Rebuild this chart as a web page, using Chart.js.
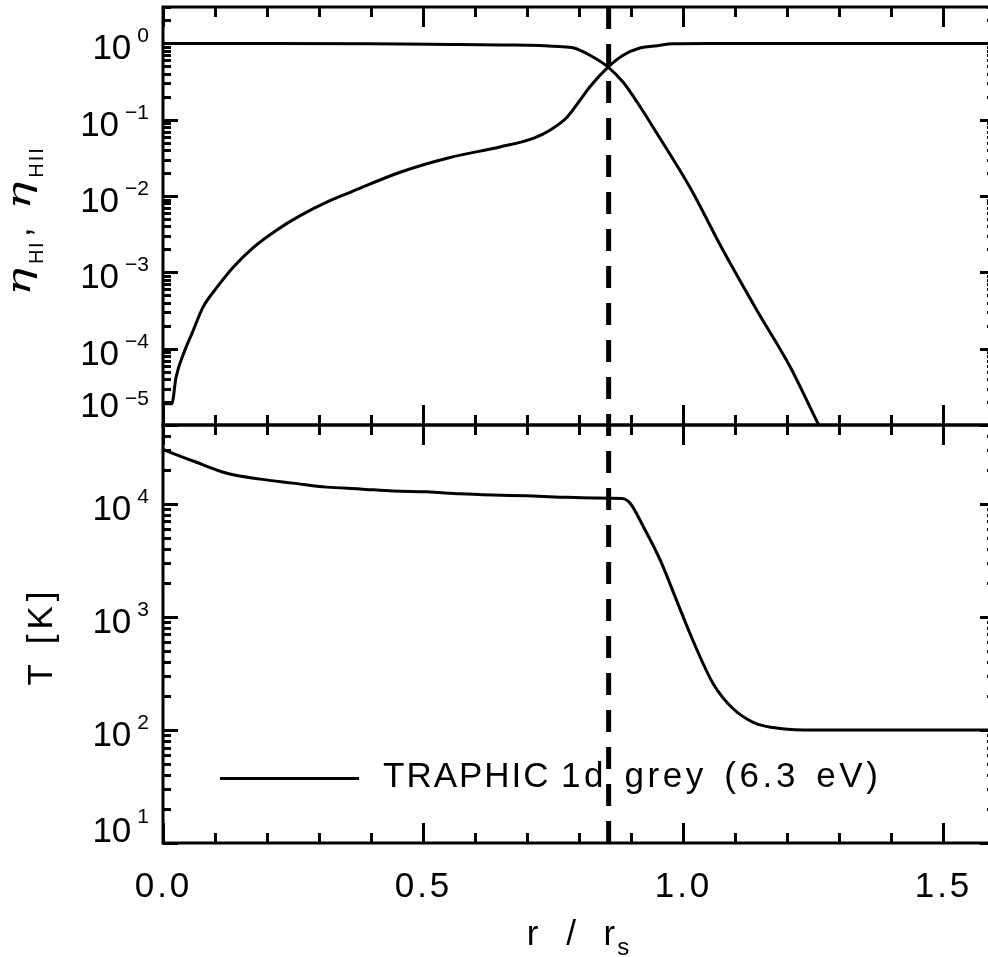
<!DOCTYPE html>
<html>
<head>
<meta charset="utf-8">
<script src="https://cdn.jsdelivr.net/npm/chart.js@4.4.1/dist/chart.umd.min.js"></script>
<style>
html,body{margin:0;padding:0;background:#fff;overflow:hidden}
#wrap{position:relative;width:988px;height:957px;overflow:hidden;background:#fff}
#wrap canvas{position:absolute;left:0;top:0}
</style>
</head>
<body>
<div id="wrap">
<canvas id="cTop" width="1010" height="957"></canvas>
<canvas id="cBot" width="1010" height="957"></canvas>
</div>
<script>
// ---------------- data ----------------
const rHI = [0, 0.017, 0.025, 0.042, 0.056, 0.077, 0.104, 0.135, 0.173, 0.219, 0.263, 0.321, 0.360, 0.456, 0.552, 0.648, 0.712, 0.744, 0.777, 0.802, 0.821, 0.856, 0.885, 0.917, 0.950, 0.981, 1.05, 1.2, 1.4, 1.6];
const etaHI = [1.9e-5, 1.9e-5, 4.2e-5, 9.5e-5, 1.6e-4, 3.5e-4, 6.4e-4, 1.17e-3, 2.1e-3, 3.6e-3, 5.5e-3, 8.7e-3, 1.12e-2, 2.05e-2, 3.2e-2, 4.4e-2, 5.7e-2, 7.3e-2, 0.108, 0.18, 0.27, 0.49, 0.70, 0.87, 0.935, 0.99, 1.0, 1.0, 1.0, 1.0];

const rHII = [0, 0.2, 0.4, 0.55, 0.65, 0.725, 0.76, 0.79, 0.821, 0.856, 0.885, 0.917, 0.95, 1.013, 1.077, 1.142, 1.206, 1.258, 1.30];
const etaHII = [1.0, 1.0, 0.99, 0.97, 0.955, 0.94, 0.91, 0.87, 0.70, 0.49, 0.31, 0.15, 0.066, 0.0131, 1.95e-3, 3.2e-4, 5.8e-5, 1.1e-5, 3e-6];

const rT = [0, 0.008, 0.058, 0.123, 0.187, 0.25, 0.315, 0.379, 0.443, 0.507, 0.571, 0.635, 0.70, 0.763, 0.827, 0.883, 0.898, 0.923, 0.956, 0.988, 1.019, 1.058, 1.096, 1.135, 1.173, 1.231, 1.4, 1.6];
const tempK = [3.05e4, 2.94e4, 2.4e4, 1.87e4, 1.66e4, 1.53e4, 1.41e4, 1.36e4, 1.30e4, 1.28e4, 1.23e4, 1.2e4, 1.18e4, 1.15e4, 1.13e4, 1.12e4, 1.02e4, 6.4e3, 3.2e3, 1.39e3, 620, 257, 155, 117, 105, 100, 100, 100];

const rMarker = [0.857];                 // dashed vertical line
const xTickValues = [0, 0.5, 1.0, 1.5];
const xTickLabels = ['0.0', '0.5', '1.0', '1.5'];
const etaExponents = [0, -1, -2, -3, -4, -5];
const tExponents = [4, 3, 2, 1];
const legendLabel = 'TRAPHIC 1d grey (6.3 eV)';
const xTitle = 'r / r';
const xTitleSub = 's';
const tTitle = 'T [K]';

// ---------------- helpers ----------------
const SANS = '"Liberation Sans", Arial, sans-serif';
const SERIF = '"DejaVu Serif", "Liberation Serif", serif';
const pts = (xs, ys) => xs.map((v, i) => ({x: v, y: ys[i]}));

function setSpacing(ctx, ls, ws) {
  try { ctx.letterSpacing = (ls || 0) + 'px'; ctx.wordSpacing = (ws || 0) + 'px'; } catch (e) {}
}
function txt(ctx, s, x, y, font, align, ls, ws) {
  ctx.font = font; ctx.textAlign = align || 'left'; ctx.textBaseline = 'alphabetic';
  setSpacing(ctx, ls, ws);
  ctx.fillText(s, x, y);
  setSpacing(ctx, 0, 0);
}

function framePlugin(cfg) {
  return {
    id: 'frame_' + cfg.name,
    afterDraw(chart) {
      const {ctx, chartArea: a} = chart;
      const xs = chart.scales.x, ys = chart.scales.y;
      ctx.save();
      ctx.strokeStyle = '#000'; ctx.fillStyle = '#000'; ctx.lineWidth = 3; ctx.lineCap = 'butt';
      // x ticks (inward on top and bottom edges)
      ctx.beginPath();
      for (let i = 0; i <= 16; i++) {
        const v = i / 10;
        const px = Math.round(xs.getPixelForValue(v)) + 0.5;
        const len = (i % 5 === 0) ? 20 : 10;
        ctx.moveTo(px, a.top); ctx.lineTo(px, a.top + len);
        ctx.moveTo(px, a.bottom); ctx.lineTo(px, a.bottom - len);
      }
      // y ticks (log, inward on both sides)
      const lo = Math.floor(Math.log10(ys.min)), hi = Math.ceil(Math.log10(ys.max));
      for (let e = lo; e <= hi; e++) {
        for (let k = 1; k <= 9; k++) {
          const v = k * Math.pow(10, e);
          if (v < ys.min * 0.999 || v > ys.max * 1.001) continue;
          const py = Math.round(ys.getPixelForValue(v)) + 0.5;
          const len = k === 1 ? 15 : 8;
          ctx.moveTo(a.left, py); ctx.lineTo(a.left + len, py);
          ctx.moveTo(a.right, py); ctx.lineTo(a.right - len, py);
        }
      }
      ctx.stroke();
      ctx.strokeRect(a.left, a.top, a.right - a.left, a.bottom - a.top);

      // y tick labels 10^e
      cfg.exponents.forEach(e => {
        const py = ys.getPixelForValue(Math.pow(10, e));
        let b10 = py + 16, bExp = py - 1;
        if (Math.abs(py - a.bottom) < 2) { b10 = a.bottom - cfg.clamp10; bExp = a.bottom - 20; }
        const es = (e < 0 ? '\u2212' : '') + Math.abs(e);
        ctx.font = '21px ' + SANS;
        const ew = ctx.measureText(es).width;
        txt(ctx, es, 149, bExp, '21px ' + SANS, 'right');
        txt(ctx, '10', 149 - ew - 6, b10, '35px ' + SANS, 'right');
      });

      if (cfg.drawExtras) cfg.drawExtras(chart);
      ctx.restore();
    }
  };
}

function baseOptions(padding, ymin, ymax) {
  return {
    responsive: false, animation: false, events: [],
    layout: {padding},
    plugins: {legend: {display: false}, tooltip: {enabled: false}, title: {display: false}},
    elements: {point: {radius: 0}, line: {tension: 0, borderJoinStyle: 'round', borderCapStyle: 'butt'}},
    scales: {
      x: {type: 'linear', min: 0, max: 1.6, display: false},
      y: {type: 'logarithmic', min: ymin, max: ymax, display: false}
    }
  };
}

const TOP_Y = 7, MID_Y = 425, BOT_Y = 843, LEFT_X = 163, CANVAS_W = 1010, CANVAS_H = 957, RIGHT_X = 995;
const DASH = [22, 15];
const curveStyle = {borderColor: '#000', borderWidth: 3, fill: false, cubicInterpolationMode: 'monotone'};

// ---------------- upper panel ----------------
new Chart(document.getElementById('cTop'), {
  type: 'line',
  data: {
    datasets: [
      Object.assign({label: 'eta_HI', data: pts(rHI, etaHI)}, curveStyle),
      Object.assign({label: 'eta_HII', data: pts(rHII, etaHII)}, curveStyle),
      {label: 'marker', data: [{x: rMarker[0], y: 3}, {x: rMarker[0], y: 1e-5}], borderColor: '#000', borderWidth: 5, borderDash: DASH, borderDashOffset: 0, fill: false}
    ]
  },
  options: baseOptions({left: LEFT_X, top: TOP_Y, right: CANVAS_W - RIGHT_X, bottom: CANVAS_H - MID_Y}, 1e-5, 3),
  plugins: [framePlugin({
    name: 'top', exponents: etaExponents, clamp10: 8,
    drawExtras(chart) {
      const ctx = chart.ctx;
      // rotated title: eta_HI, eta_HII
      const segs = [
        {t: '\u03B7', font: 'italic 31px ' + SERIF, dy: 0, sx: 1.5, ls: 0},
        {t: 'HI', font: '20px ' + SANS, dy: 13, sx: 1, ls: 1.5},
        {t: ',', font: '34px ' + SANS, dy: 0, sx: 1, ls: 0, gapAfter: 18},
        {t: '\u03B7', font: 'italic 31px ' + SERIF, dy: 0, sx: 1.5, ls: 0},
        {t: 'HII', font: '20px ' + SANS, dy: 13, sx: 1, ls: 2}
      ];
      let total = 0;
      segs.forEach(s => { ctx.font = s.font; setSpacing(ctx, s.ls, 0); s.w = ctx.measureText(s.t).width * s.sx; setSpacing(ctx, 0, 0); total += s.w + (s.gapAfter || 4); });
      ctx.save();
      ctx.translate(30, 219);
      ctx.rotate(-Math.PI / 2);
      let cx = -total / 2;
      segs.forEach(s => {
        ctx.save();
        ctx.translate(cx, s.dy);
        ctx.scale(s.sx, 1);
        ctx.font = s.font; ctx.textAlign = 'left'; ctx.textBaseline = 'alphabetic';
        setSpacing(ctx, s.ls, 0);
        ctx.fillText(s.t, 0, 0);
        setSpacing(ctx, 0, 0);
        ctx.restore();
        cx += s.w + (s.gapAfter || 4);
      });
      ctx.restore();
    }
  })]
});

// ---------------- lower panel ----------------
new Chart(document.getElementById('cBot'), {
  type: 'line',
  data: {
    datasets: [
      Object.assign({label: legendLabel, data: pts(rT, tempK)}, curveStyle),
      {label: 'marker', data: [{x: rMarker[0], y: 5e4}, {x: rMarker[0], y: 10}], borderColor: '#000', borderWidth: 5, borderDash: DASH, borderDashOffset: (MID_Y - TOP_Y) % (DASH[0] + DASH[1]), fill: false}
    ]
  },
  options: baseOptions({left: LEFT_X, top: MID_Y, right: CANVAS_W - RIGHT_X, bottom: CANVAS_H - BOT_Y}, 10, 5e4),
  plugins: [framePlugin({
    name: 'bot', exponents: tExponents, clamp10: 1,
    drawExtras(chart) {
      const ctx = chart.ctx;
      const xs = chart.scales.x;
      // x tick labels
      xTickValues.forEach((v, i) => {
        txt(ctx, xTickLabels[i], xs.getPixelForValue(v) + 0.5, 897, '35px ' + SANS, 'center', 3);
      });
      // x title r / r_s
      ctx.font = '35px ' + SANS; setSpacing(ctx, 9, 0);
      const w = ctx.measureText(xTitle).width - 9;
      setSpacing(ctx, 0, 0);
      const x0 = 577 - (w + 12) / 2;
      txt(ctx, xTitle, x0, 945, '35px ' + SANS, 'left', 9);
      txt(ctx, xTitleSub, x0 + w + 2, 955, '24px ' + SANS, 'left');
      // y title T [K]
      ctx.save();
      ctx.translate(52, 636);
      ctx.rotate(-Math.PI / 2);
      txt(ctx, tTitle, 0, 0, '35px ' + SANS, 'center', 5);
      ctx.restore();
      // legend
      const ds = chart.data.datasets[0];
      ctx.save();
      ctx.strokeStyle = ds.borderColor; ctx.lineWidth = ds.borderWidth;
      ctx.beginPath(); ctx.moveTo(220, 778.5); ctx.lineTo(359, 778.5); ctx.stroke();
      ctx.restore();
      const sp = ds.label.indexOf(' ');
      txt(ctx, ds.label.slice(0, sp), 383, 787, '35px ' + SANS, 'left', 2);
      txt(ctx, ds.label.slice(sp + 1), 561, 787, '35px ' + SANS, 'left', 3.6, 4);
    }
  })]
});
</script>
</body>
</html>
